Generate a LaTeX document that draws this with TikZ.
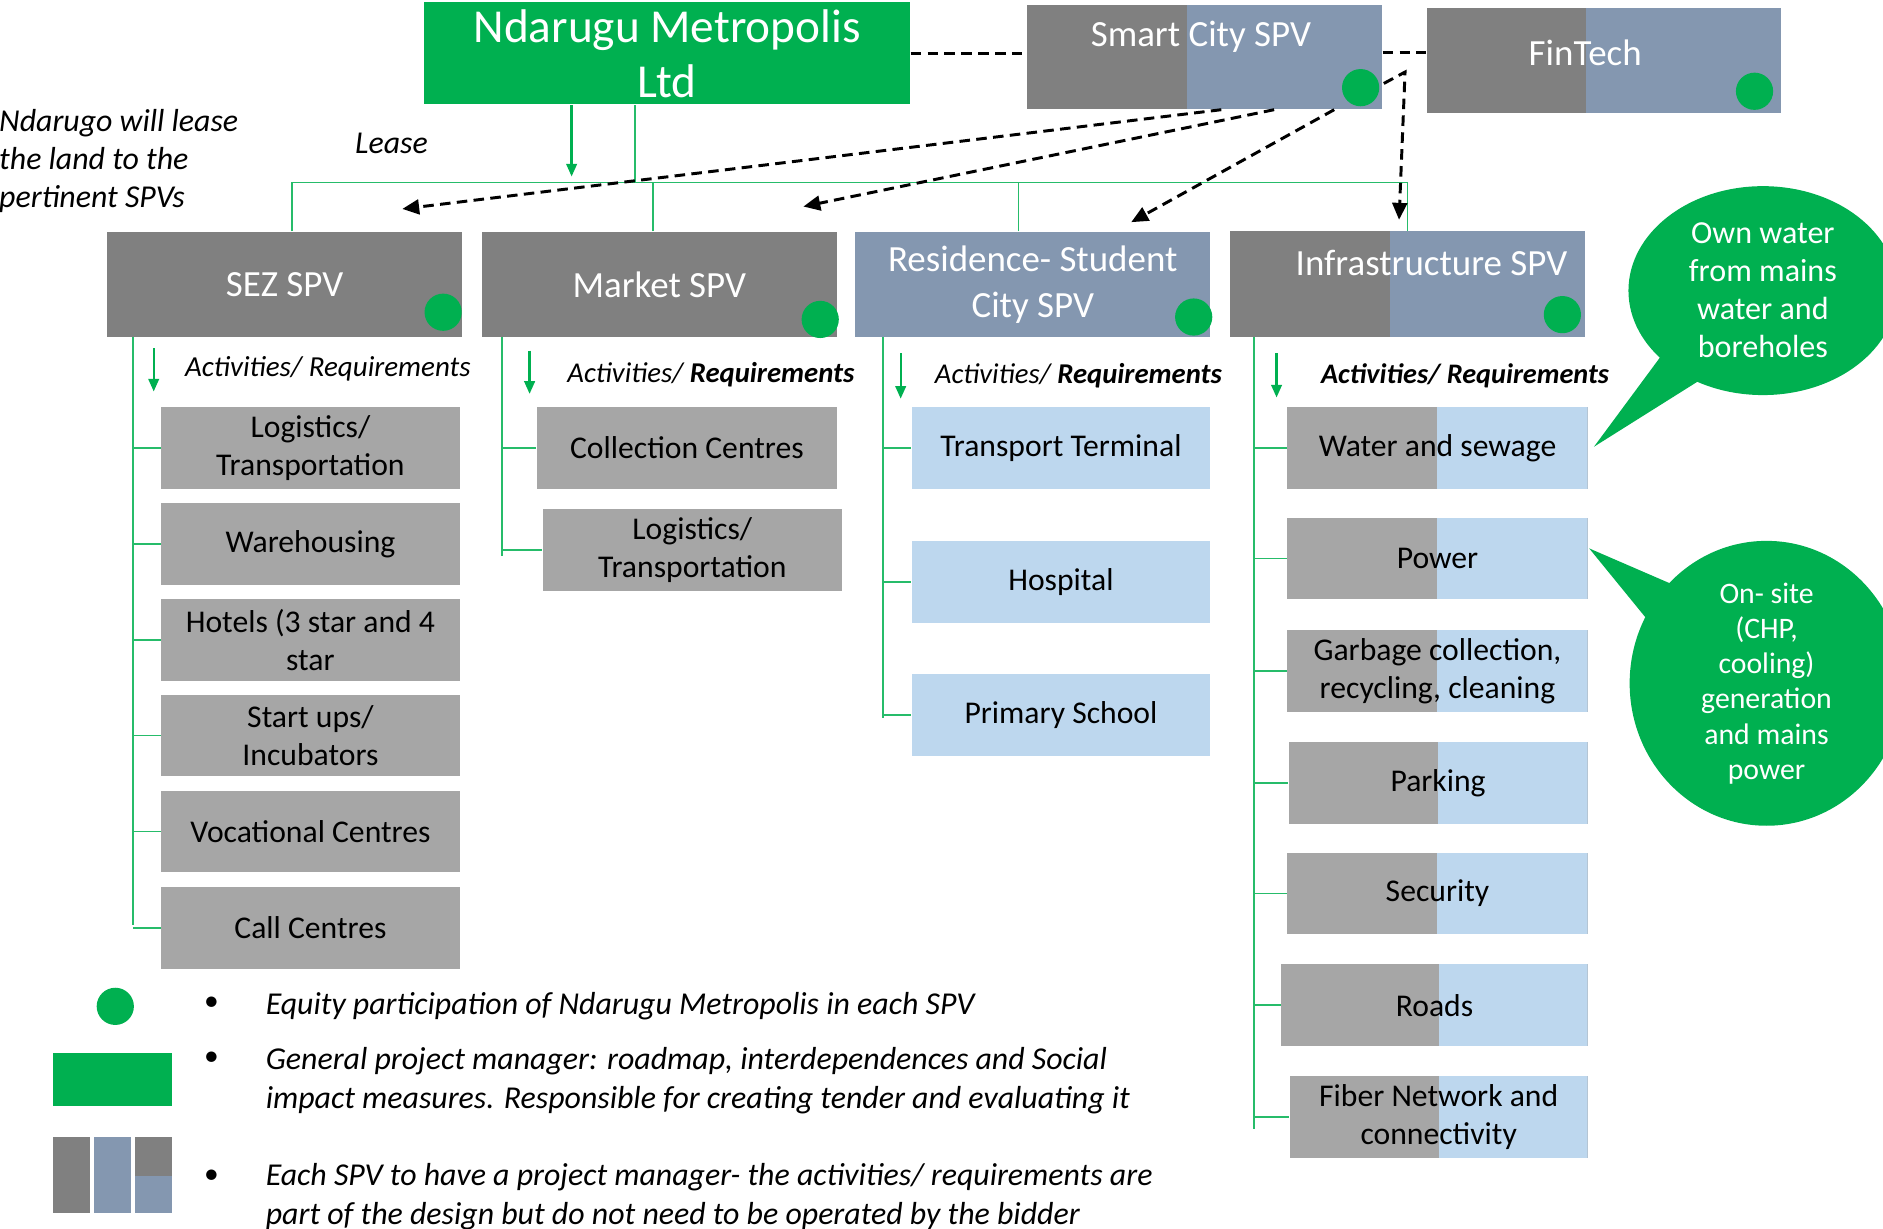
\documentclass[tikz,border=0pt]{standalone}
\usepackage{fontspec}
\setmainfont{Carlito}
\usepackage{tikz}
\usetikzlibrary{arrows.meta,calc,shapes.geometric}
\definecolor{ngreen}{HTML}{00B050}
\definecolor{spvgray}{HTML}{808080}
\definecolor{spvblue}{HTML}{8497B0}
\definecolor{actgray}{HTML}{A6A6A6}
\definecolor{actblue}{HTML}{BDD7EE}

\begin{document}
\begin{tikzpicture}[x=0.02cm,y=-0.02cm]
    \newcommand{\fs}[2]{\fontsize{#1}{#2}\selectfont}
    \tikzstyle{main} = [rectangle,fill=ngreen,text=white,minimum width=8.1cm,minimum height=1.7cm,inner sep=0pt,align=center,font=\fs{22.4}{26}]
    \tikzstyle{spv}  = [rectangle,fill=spvgray,text=white,minimum width=5.92cm,minimum height=1.76cm,inner sep=0pt,align=center,font=\fs{17.5}{21.5}]
    \tikzstyle{spvlabel} = [text=white,inner sep=0pt,font=\fs{17.5}{21.5}]
    \tikzstyle{item} = [rectangle,fill=actgray,text=black,minimum width=4.98cm,minimum height=1.36cm,inner sep=0pt,align=center,font=\fs{15}{18}]
    \tikzstyle{dot}  = [circle,fill=ngreen,minimum size=0.62cm,inner sep=0pt]
    \tikzstyle{act}  = [inner sep=0pt,font=\fs{13.6}{16}\itshape]
    \tikzstyle{note} = [inner sep=0pt,align=left,font=\fs{15.1}{17.9}\itshape]
    \tikzstyle{legend} = [inner sep=0pt,align=left,font=\fs{15.1}{18.2}\itshape,anchor=west]
    \tikzstyle{callout} = [ellipse,fill=ngreen,text=white,inner sep=0pt,align=center]
    \tikzstyle{link}  = [ngreen!85,line width=0.8pt]
    \tikzstyle{garrow} = [ngreen,line width=1.1pt,-{Triangle[length=6pt,width=5pt]}]
    \tikzstyle{dline} = [line width=1.4pt,dash pattern=on 5pt off 3pt]
    \tikzstyle{dedge} = [dline,-{Triangle[length=8pt,width=7pt]}]
    \tikzset{split/.style 2 args={path picture={\fill[#1] ($(path picture bounding box.south west)!#2!(path picture bounding box.south east)$) rectangle (path picture bounding box.north east);}}}

    \useasboundingbox (0,0) rectangle (1568,1023);
    \clip (0,0) rectangle (1568,1023);

    % top level
    \node[main] (ndarugu) at (555.5,44.5) {Ndarugu Metropolis\\Ltd};
    \node[spv,split={spvblue}{0.45},minimum height=1.74cm] (smart) at (1003,47.5) {};
    \node[spvlabel] (smartlabel) at (1000,31) {Smart City SPV};
    \node[spv,split={spvblue}{0.45},minimum width=5.9cm,minimum height=1.74cm] (fintech) at (1335.5,50.5) {};
    \node[spvlabel] (fintechlabel) at (1320,44) {FinTech};

    \node[note] (lease) at (326,119) {Lease};
    \node[note,anchor=west] (leasenote) at (-1,134) {Ndarugo will lease\\the land to the\\pertinent SPVs};

    % SPVs
    \node[spv] (sez) at (237,237) {SEZ SPV};
    \node[spv] (market) at (549,237) {Market SPV};
    \node[spv,fill=spvblue] (residence) at (860,237) {Residence- Student\\City SPV};
    \node[spv,split={spvblue}{0.45}] (infra) at (1172,236.5) {};
    \node[spvlabel] (infralabel) at (1192,219) {Infrastructure SPV};

    \node[dot] (dsmart) at (1133,73) {};
    \node[dot] (dfintech) at (1461,76) {};
    \node[dot] (dsez) at (369,260) {};
    \node[dot] (dmarket) at (683,266) {};
    \node[dot] (dresidence) at (994,264) {};
    \node[dot] (dinfra) at (1301,262) {};

    % activities
    \node[act,font=\fs{13.75}{16}\itshape] (sezact) at (273,307) {Activities/ Requirements};
    \node[act] (marketact) at (592,312) {Activities/ \textbf{Requirements}};
    \node[act] (resact) at (898,313) {Activities/ \textbf{Requirements}};
    \node[act,font=\fs{13.4}{16}\itshape] (infraact) at (1220,313) {\textbf{Activities/ Requirements}};

    \node[item] (s1) at (258.5,373) {Logistics/\\Transportation};
    \node[item] (s2) at (258.5,453) {Warehousing};
    \node[item] (s3) at (258.5,533) {Hotels (3 star and 4\\star};
    \node[item] (s4) at (258.5,612.5) {Start ups/\\Incubators};
    \node[item] (s5) at (258.5,692.5) {Vocational Centres};
    \node[item] (s6) at (258.5,772.5) {Call Centres};

    \node[item,minimum width=5cm] (m1) at (572,373) {Collection Centres};
    \node[item] (m2) at (576.5,458) {Logistics/\\Transportation};

    \node[item,fill=actblue] (r1) at (883.5,373) {Transport Terminal};
    \node[item,fill=actblue] (r2) at (883.5,484.5) {Hospital};
    \node[item,fill=actblue] (r3) at (883.5,595.5) {Primary School};

    \node[item,split={actblue}{0.5},minimum width=5cm] (i1) at (1197,373) {Water and sewage};
    \node[item,split={actblue}{0.5},minimum width=5cm] (i2) at (1197,465) {Power};
    \node[item,split={actblue}{0.5},minimum width=5cm] (i3) at (1197,559) {Garbage collection,\\recycling, cleaning};
    \node[item,split={actblue}{0.5}] (i4) at (1197.5,652) {Parking};
    \node[item,split={actblue}{0.5},minimum width=5cm] (i5) at (1197,744) {Security};
    \node[item,split={actblue}{0.514},minimum width=5.1cm] (i6) at (1194.5,837) {Roads};
    \node[item,split={actblue}{0.5},minimum width=4.96cm] (i7) at (1198,930) {Fiber Network and\\connectivity};

    % green tree
    \coordinate (bus) at (243,152);
    \coordinate (sezspine) at (111,281);
    \coordinate (marketspine) at (418,281);
    \coordinate (resspine) at (735,281);
    \coordinate (infraspine) at (1044,281);
    \draw[link] (ndarugu.south -| 529,152) -- (529,152);
    \draw[garrow] (ndarugu.south -| 476,152) -- (476,147);
    \draw[link] (sez.north -| bus) -- (bus) -- (bus -| infra.north) -- (infra.north);
    \draw[link] (market.north -| 544,152) -- (544,152);
    \draw[link] (residence.north -| 848,152) -- (848,152);

    \draw[link] (sezspine) -- (111,770);
    \draw[link] (s1.west -| sezspine) -- (s1.west);
    \draw[link] (s2.west -| sezspine) -- (s2.west);
    \draw[link] (s3.west -| sezspine) -- (s3.west);
    \draw[link] (s4.west -| sezspine) -- (s4.west);
    \draw[link] (s5.west -| sezspine) -- (s5.west);
    \draw[link] (s6.west -| sezspine) -- (s6.west);
    \draw[link] (marketspine) -- (418,463);
    \draw[link] (m1.west -| marketspine) -- (m1.west);
    \draw[link] (m2.west -| marketspine) -- (m2.west);
    \draw[link] (resspine) -- (735,598);
    \draw[link] (r1.west -| resspine) -- (r1.west);
    \draw[link] (r2.west -| resspine) -- (r2.west);
    \draw[link] (r3.west -| resspine) -- (r3.west);
    \draw[link] (infraspine) -- (1044,940);
    \draw[link] (i1.west -| infraspine) -- (i1.west);
    \draw[link] (i2.west -| infraspine) -- (i2.west);
    \draw[link] (i3.west -| infraspine) -- (i3.west);
    \draw[link] (i4.west -| infraspine) -- (i4.west);
    \draw[link] (i5.west -| infraspine) -- (i5.west);
    \draw[link] (i6.west -| infraspine) -- (i6.west);
    \draw[link] (i7.west -| infraspine) -- (i7.west);

    \draw[garrow] (128,290) -- (128,326);
    \draw[garrow] (441,292) -- (441,328);
    \draw[garrow] (750,294) -- (750,332);
    \draw[garrow] (1063,294) -- (1063,331);

    % smart city links
    \coordinate (sezin) at (335,174);
    \coordinate (marketin) at (669,172);
    \coordinate (resin) at (942,185);
    \coordinate (infrain) at (1165,183);
    \draw[dline] (ndarugu.east) -- (ndarugu.east -| smart.west);
    \draw[dline] (smart.east |- fintechlabel) -- (fintech.west |- fintechlabel);
    \draw[dedge] ($(smart.south)+(14,0)$) -- (sezin);
    \draw[dedge] ($(smart.south)+(58,0)$) -- (marketin);
    \draw[dedge] ($(smart.south)+(108,0)$) -- (resin);
    \draw[dedge] ($(smart.east)+(1,22)$) -- (1170,60) -- (infrain);

    % callouts
    \coordinate (watertip) at ($(i1.east)+(5,-1)$);
    \coordinate (powertip) at ($(i2.north east)+(1,26)$);
    \fill[ngreen] (watertip) -- (1385,294) -- (1418,315) -- cycle;
    \fill[ngreen] (powertip) -- (1405,492) -- (1375,520) -- cycle;
    \node[callout,minimum width=4.48cm,minimum height=3.48cm,font=\fs{15.2}{18}] (watercall) at (1468,242) {Own water\\from mains\\water and\\boreholes};
    \node[callout,minimum width=4.56cm,minimum height=3.9cm,font=\fs{14.1}{16.7}] (powercall) at (1471,569) {On- site\\(CHP,\\cooling)\\generation\\and mains\\power};

    % legend
    \node[dot] (legdot) at (96,838) {};
    \fill[ngreen] (44,877) rectangle (143,921);
    \fill[spvgray] (44,947) rectangle (75,1010);
    \fill[spvblue] (78,947) rectangle (109,1010);
    \fill[spvgray] (112,947) rectangle (143,979);
    \fill[spvblue] (112,979) rectangle (143,1010);
    \node[inner sep=0pt,font=\fs{14}{16}] (b1) at (176,836) {\textbullet};
    \node[inner sep=0pt,font=\fs{14}{16}] (b2) at (176,882) {\textbullet};
    \node[inner sep=0pt,font=\fs{14}{16}] (b3) at (176,980) {\textbullet};
    \node[legend] (leg1) at (221,838) {Equity participation of Ndarugu Metropolis in each SPV};
    \node[legend] (leg2) at (221,900) {General project manager: roadmap, interdependences and Social\\impact measures. Responsible for creating tender and evaluating it};
    \node[legend] (leg3) at (221,996.5) {Each SPV to have a project manager- the activities/ requirements are\\part of the design but do not need to be operated by the bidder};
  \end{tikzpicture}
\end{document}
